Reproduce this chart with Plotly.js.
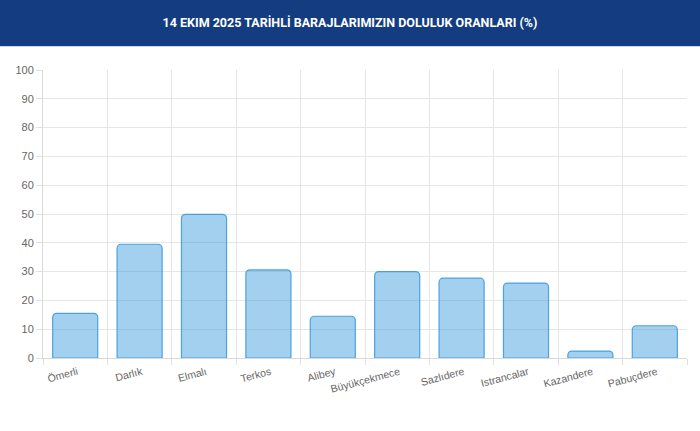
<!DOCTYPE html>
<html>
<head>
<meta charset="utf-8">
<script src="https://cdn.plot.ly/plotly-3.0.1.min.js"></script>
<style>
  html, body { margin: 0; padding: 0; background: #fff; }
  #chart { width: 700px; height: 431px; }
</style>
</head>
<body>
<div id="chart"></div>
<script>
// dam names and fill ratios (%)
var dams = ["Ömerli", "Darlık", "Elmalı", "Terkos", "Alibey", "Büyükçekmece",
            "Sazlıdere", "Istrancalar", "Kazandere", "Pabuçdere"];
var fillRates = [15.5, 39.5, 49.9, 30.6, 14.5, 30.0, 27.7, 26.0, 2.4, 11.2];

var yTicks = [0, 10, 20, 30, 40, 50, 60, 70, 80, 90, 100];

var trace = {
  x: dams,
  y: fillRates,
  type: "bar",
  marker: {
    color: "rgba(54, 150, 220, 0.45)",
    line: { color: "rgba(54, 150, 220, 0.85)", width: 1.2 },
    cornerradius: 4
  },
  hoverinfo: "x+y"
};

var layout = {
  width: 700,
  height: 431,
  margin: { l: 43, r: 13, t: 70, b: 73 },
  paper_bgcolor: "#fff",
  plot_bgcolor: "#fff",
  bargap: 0.3,
  showlegend: false,
  title: {
    text: "<b>14 EKIM 2025 TARİHLİ BARAJLARIMIZIN DOLULUK ORANLARI (%)</b>",
    font: { family: "Roboto, sans-serif", size: 12.5, color: "#ffffff" },
    x: 0.5, xanchor: "center",
    y: 0.947, yanchor: "middle", yref: "container"
  },
  xaxis: {
    type: "category",
    tickson: "boundaries",
    showgrid: true,
    gridcolor: "#e6e6e6",
    ticks: "outside",
    ticklen: 6,
    tickcolor: "#e0e0e0",
    tickangle: -15,
    ticklabelstandoff: 3,
    ticklabelshift: 2,
    showline: true,
    linecolor: "#d9d9d9",
    linewidth: 1,
    tickfont: { family: "Liberation Sans, Arial, sans-serif", size: 10.5, color: "#666" },
    fixedrange: true
  },
  yaxis: {
    range: [0, 100],
    tickvals: yTicks,
    showgrid: true,
    gridcolor: "#e6e6e6",
    zeroline: false,
    ticks: "outside",
    ticklen: 6,
    tickcolor: "#e0e0e0",
    showline: true,
    linecolor: "#d9d9d9",
    tickfont: { family: "Liberation Sans, Arial, sans-serif", size: 11, color: "#666" },
    fixedrange: true
  },
  shapes: [
    // dark blue header band
    { type: "rect", xref: "paper", yref: "paper", x0: -0.1, x1: 1.1, y0: 1.0833, y1: 1.3,
      fillcolor: "#143c80", line: { width: 0 }, layer: "below" },
    { type: "line", xref: "paper", yref: "paper", x0: -0.1, x1: 1.1, y0: 1.0816, y1: 1.0816,
      line: { color: "#c9d6ea", width: 1 } }
  ]
};

Plotly.newPlot("chart", [trace], layout, { displayModeBar: false });
</script>
</body>
</html>
